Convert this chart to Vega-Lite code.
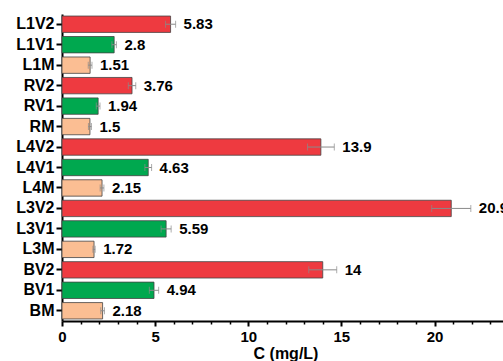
{
  "$schema": "https://vega.github.io/schema/vega-lite/v6.json",
  "autosize": {"type": "none"},
  "padding": {"left": 62, "top": 14, "right": 0, "bottom": 41},
  "width": 447,
  "height": 307,
  "background": "white",
  "config": {
    "view": {"stroke": null},
    "font": "Liberation Sans"
  },
  "data": {
    "values": [
      {"sample": "L1V2", "type": "V2", "value": 5.83, "err": 0.27},
      {"sample": "L1V1", "type": "V1", "value": 2.8, "err": 0.12},
      {"sample": "L1M", "type": "M", "value": 1.51, "err": 0.1},
      {"sample": "RV2", "type": "V2", "value": 3.76, "err": 0.2},
      {"sample": "RV1", "type": "V1", "value": 1.94, "err": 0.1},
      {"sample": "RM", "type": "M", "value": 1.5, "err": 0.08},
      {"sample": "L4V2", "type": "V2", "value": 13.9, "err": 0.72},
      {"sample": "L4V1", "type": "V1", "value": 4.63, "err": 0.18},
      {"sample": "L4M", "type": "M", "value": 2.15, "err": 0.1},
      {"sample": "L3V2", "type": "V2", "value": 20.9, "err": 1.05},
      {"sample": "L3V1", "type": "V1", "value": 5.59, "err": 0.27},
      {"sample": "L3M", "type": "M", "value": 1.72, "err": 0.06},
      {"sample": "BV2", "type": "V2", "value": 14, "err": 0.75},
      {"sample": "BV1", "type": "V1", "value": 4.94, "err": 0.25},
      {"sample": "BM", "type": "M", "value": 2.18, "err": 0.1}
    ]
  },
  "transform": [{"calculate": "datum.value + datum.err", "as": "hi"}],
  "resolve": {"axis": {"x": "independent"}},
  "encoding": {
    "y": {
      "field": "sample",
      "type": "nominal",
      "sort": null,
      "scale": {"paddingInner": 0.2, "paddingOuter": 0.1},
      "axis": {
        "title": null,
        "labelFont": "Liberation Sans",
        "labelFontWeight": "bold",
        "labelFontSize": 16,
        "labelColor": "black",
        "labelPadding": 2,
        "tickSize": 6,
        "tickWidth": 2,
        "tickColor": "black",
        "domainColor": "black",
        "domainWidth": 2
      }
    }
  },
  "layer": [
    {
      "mark": {"type": "bar", "stroke": "#444444", "strokeWidth": 0.8},
      "encoding": {
        "x": {
          "field": "value",
          "type": "quantitative",
          "scale": {"domain": [0, 24], "nice": false},
          "axis": {
            "title": "C (mg/L)",
            "values": [0,1,2,3,4,5,6,7,8,9,10,11,12,13,14,15,16,17,18,19,20,21,22,23,24],
            "labelExpr": "datum.value % 5 === 0 ? datum.label : ''",
            "labelOverlap": false,
            "labelFlush": false,
            "grid": false,
            "labelFont": "Liberation Sans",
            "labelFontWeight": "bold",
            "labelFontSize": 15,
            "labelColor": "black",
            "labelPadding": 3,
            "tickSize": {"condition": {"test": "datum.value % 5 === 0", "value": 5}, "value": 3},
            "tickWidth": {"condition": {"test": "datum.value % 5 === 0", "value": 2}, "value": 1.5},
            "tickColor": "black",
            "domainColor": "black",
            "domainWidth": 2,
            "titleFont": "Liberation Sans",
            "titleFontWeight": "bold",
            "titleFontSize": 16,
            "titleColor": "black",
            "titlePadding": 1
          }
        },
        "color": {
          "field": "type",
          "type": "nominal",
          "scale": {"domain": ["V2", "V1", "M"], "range": ["#EE3A40", "#00A84F", "#FBBE93"]},
          "legend": null
        }
      }
    },
    {
      "mark": {"type": "errorbar", "ticks": {"size": 7, "color": "#8a8a8a"}, "rule": {"color": "#8a8a8a"}, "thickness": 1},
      "encoding": {
        "x": {"field": "value", "type": "quantitative", "axis": null},
        "xError": {"field": "err"}
      }
    },
    {
      "mark": {"type": "text", "align": "left", "baseline": "middle", "dx": 8, "font": "Liberation Sans", "fontWeight": "bold", "fontSize": 15, "color": "black"},
      "encoding": {
        "x": {"field": "hi", "type": "quantitative", "axis": null},
        "text": {"field": "value", "type": "nominal"}
      }
    }
  ]
}
